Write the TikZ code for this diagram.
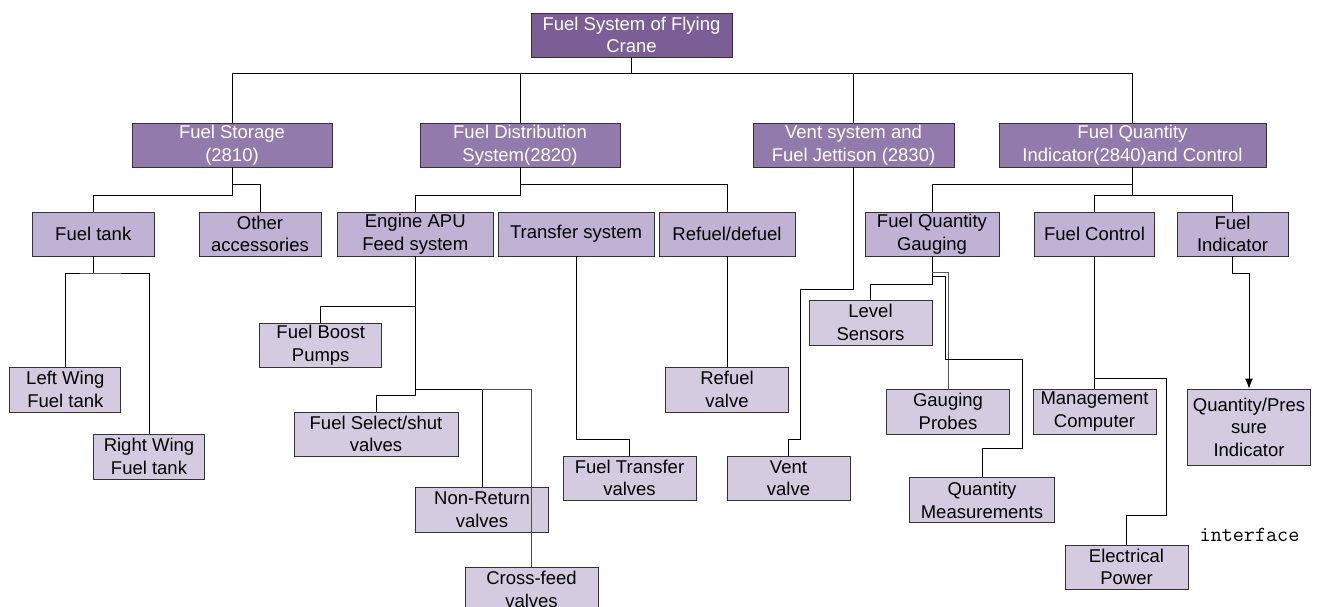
\documentclass[tikz,border=0pt]{standalone}
\usepackage{fontspec}
\setmainfont{Liberation Sans}
\usetikzlibrary{arrows.meta}
\definecolor{rootfill}{HTML}{7B5E95}
\definecolor{topfill}{HTML}{937AAC}
\definecolor{midfill}{HTML}{C0B2D5}
\definecolor{lowfill}{HTML}{D4CBE1}
\definecolor{edge}{HTML}{333333}
\begin{document}
\begin{tikzpicture}[x=1pt,y=-1pt,
  box/.style={draw=edge,line width=0.8pt,rectangle,inner sep=0pt,align=center,
    font=\fontsize{18.5}{22.5}\selectfont},
  rootbox/.style={box,fill=rootfill,text=white},
  topbox/.style={box,fill=topfill,text=white,minimum height=44pt},
  midbox/.style={box,fill=midfill,text=black,minimum height=44pt},
  lowbox/.style={box,fill=lowfill,text=black},
  link/.style={draw=black,line width=0.8pt},
  sz/.style 2 args={minimum width=#1pt,minimum height=#2pt}]
\useasboundingbox (0,0) rectangle (1318,607);
\clip (0,0) rectangle (1318,607);

% bus heights
\coordinate (y73) at (0,73);
\coordinate (y184) at (0,184);
\coordinate (y195) at (0,195);
\coordinate (y273) at (0,273);
\coordinate (y284) at (0,284);
\coordinate (y306) at (0,306);
\coordinate (y389) at (0,389);
\coordinate (y395) at (0,395);
\coordinate (y439) at (0,439);
\coordinate (y378) at (0,378.7);

% root
\node[rootbox,sz={201}{44}] (root) at (631.5,35) {Fuel System of Flying\\Crane};

% first level
\node[topbox,minimum width=200pt] (fs) at (232,145) {Fuel Storage\\(2810)};
\node[topbox,minimum width=200pt] (fd) at (520,145) {Fuel Distribution\\System(2820)};
\node[topbox,minimum width=201pt] (vj) at (853.5,145) {Vent system and\\Fuel Jettison (2830)};
\node[topbox,minimum width=267pt] (fq) at (1132.5,145) {Fuel Quantity\\Indicator(2840)and Control};

% second level
\node[midbox,minimum width=122.5pt] (ft) at (93.25,234) {Fuel tank};
\node[midbox,minimum width=122pt] (oa) at (260,234) {Other\\accessories};
\node[midbox,minimum width=155.5pt] (ea) at (415.25,234) {Engine APU\\Feed system};
\node[midbox,minimum width=156pt] (ts) at (576,234) {Transfer system};
\node[midbox,minimum width=136pt] (rd) at (727,234) {Refuel/defuel};
\node[midbox,minimum width=134pt] (fqg) at (932,234) {Fuel Quantity\\Gauging};
\node[midbox,minimum width=120pt] (fc) at (1094.5,234) {Fuel Control};
\node[midbox,minimum width=111pt] (fi) at (1232.5,234) {Fuel\\Indicator};

% third level
\node[lowbox,sz={111}{45}] (lw) at (65.3,389.5) {Left Wing\\Fuel tank};
\node[lowbox,sz={111}{45}] (rw) at (149,456.5) {Right Wing\\Fuel tank};
\node[lowbox,sz={122}{44}] (fbp) at (320.7,345) {Fuel Boost\\Pumps};
\node[lowbox,sz={164}{44}] (fss) at (376,434) {Fuel Select/shut\\valves};
\node[lowbox,sz={133}{45}] (nr) at (482,509.5) {Non-Return\\valves};
\node[lowbox,sz={133}{45}] (cf) at (531.5,589.5) {Cross-feed\\valves};
\node[lowbox,sz={133}{44}] (ftv) at (629.5,478) {Fuel Transfer\\valves};
\node[lowbox,sz={122.5}{45}] (rv) at (727,389.5) {Refuel\\valve};
\node[lowbox,sz={123}{44}] (vv) at (788.5,478) {Vent\\valve};
\node[lowbox,sz={123}{45}] (ls) at (870.5,322.5) {Level\\Sensors};
\node[lowbox,sz={123}{45}] (gp) at (948,411.5) {Gauging\\Probes};
\node[lowbox,sz={145}{45}] (qm) at (982,500.3) {Quantity\\Measurements};
\node[lowbox,sz={123}{45}] (mc) at (1094.5,411.5) {Management\\Computer};
\node[lowbox,sz={123}{44}] (ep) at (1126.5,567) {Electrical\\Power};
\node[lowbox,sz={123}{76}] (qpi) at (1249,427) {Quantity/Pres\\sure\\Indicator};

\node[font=\ttfamily\fontsize{21.5}{24}\selectfont,inner sep=0pt] (itf) at (1249.5,535) {interface};

% root to first level
\draw[link] (root.south) -- (root.south |- y73);
\draw[link] (fs.north) -- (fs.north |- y73) -| (fq.north);
\draw[link] (fd.north) -- (fd.north |- y73);
\draw[link] (vj.north) -- (vj.north |- y73);

% fuel storage
\draw[link] (fs.south) -- (fs.south |- y195) -| (ft.north);
\draw[link] (fs.south |- y184) -| (oa.north);
\draw[link] (ft.south) -- (ft.south |- y273);
\draw[link] (lw.north) |- (ft.south |- y273) -| (rw.north);

% fuel distribution
\draw[link] (fd.south) -- (fd.south |- y195) -| (ea.north);
\draw[link] (fd.south |- y184) -| (rd.north);
\draw[link] (ea.south) -- (ea.south |- y395) -| (fss.north);
\draw[link] (ea.south |- y306) -| (fbp.north);
\draw[link] (ea.south |- y389) -| (nr.north);
\draw[link,draw=black!70] (nr.north |- y389) -| (cf.north);
\draw[link] (ts.south) -- (ts.south |- y439) -| (ftv.north);
\draw[link] (rd.south) -- (rv.north);

% vent and jettison
\draw[link] (vj.south) |- (800,289) -- (800,439) -| (vv.north);

% quantity indication and control
\draw[link] (fq.south) -- (fq.south |- y195);
\draw[link] (fq.south |- y184) -| (fqg.north);
\draw[link] (fc.north) -- (fc.north |- y195) -| (fi.north);
\draw[link] (fqg.south) -- (fqg.south |- y284) -| (ls.north);
\draw[link,draw=black!65] (fqg.south |- 0,272.7) -| (gp.north);
\draw[link] (fqg.south |- 0,276.7) -- (945.7,276.7) -- (945.7,359.3)
  -- (1022,359.3) -- (1022,448) -| (qm.north);
\draw[link] (fc.south) -- (mc.north);
\draw[link] (fc.south |- y378) -| (1166.7,515) -| (ep.north);
\draw[link,-{Latex[length=10pt,width=8pt]}] (fi.south) -- (fi.south |- y273) -| (qpi.north);
\end{tikzpicture}
\end{document}
